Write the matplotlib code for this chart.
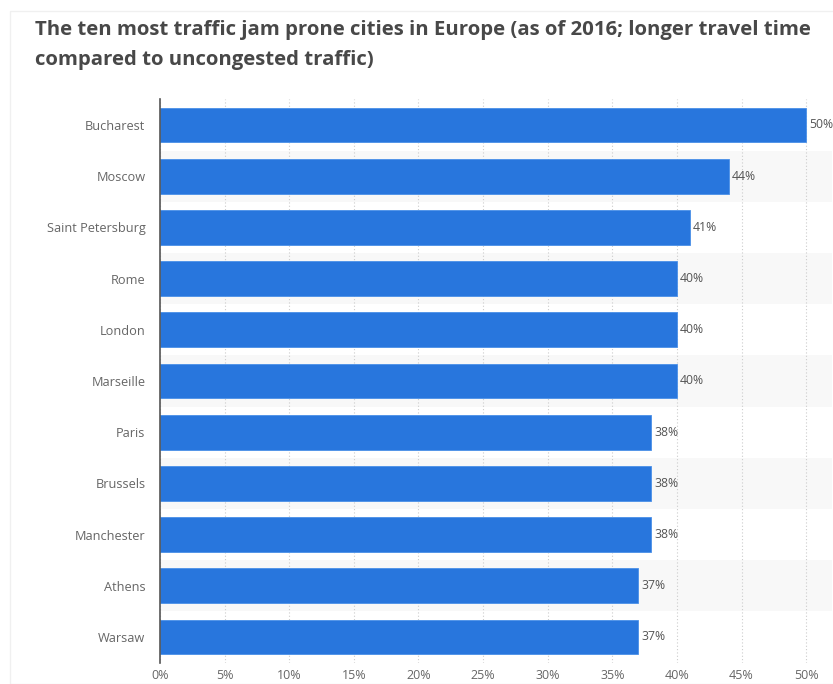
import matplotlib.pyplot as plt
from matplotlib.patches import Rectangle

cities = ["Bucharest", "Moscow", "Saint Petersburg", "Rome", "London",
          "Marseille", "Paris", "Brussels", "Manchester", "Athens", "Warsaw"]
values = [50, 44, 41, 40, 40, 40, 38, 38, 38, 37, 37]
xticks = [0, 5, 10, 15, 20, 25, 30, 35, 40, 45, 50]

BLUE = "#2876dd"
GREY = "#666666"

plt.rcParams["font.family"] = ["Open Sans", "DejaVu Sans"]

W, H = 833, 684
fig = plt.figure(figsize=(W / 100, H / 100), dpi=100)
fig.patch.set_facecolor("white")

# faint card border
fig.add_artist(Rectangle((10 / W, 0), 1, 1 - 11 / H, transform=fig.transFigure,
                         fill=False, edgecolor="#f0f0f0", linewidth=1))

ax = fig.add_axes([160 / W, 1 - 662.6 / H, (832 - 160) / W, (662.6 - 99.4) / H])
ax.set_xlim(0, 52)
ax.set_ylim(len(cities) - 0.5, -0.5)

y = list(range(len(cities)))
for i in y:
    if i % 2 == 1:
        ax.axhspan(i - 0.5, i + 0.5, color="#f8f8f8", zorder=0, lw=0)

for t in xticks:
    ax.axvline(t, color="#cccccc", lw=0.8, ls=(0, (1, 2)), zorder=1)

ax.barh(y, values, height=0.68, color=BLUE, edgecolor="#4a90e8", linewidth=0.6, zorder=2)
for i, v in zip(y, values):
    ax.text(v + 0.25, i, f"{v}%", va="center", ha="left", fontsize=8.8, color="#555555")

ax.set_yticks(y)
ax.set_yticklabels(cities)
ax.set_xticks(xticks)
ax.set_xticklabels([f"{t}%" for t in xticks])
ax.tick_params(axis="y", length=0, pad=10.5, labelsize=9.2, labelcolor=GREY)
ax.tick_params(axis="x", length=0, pad=4.5, labelsize=9, labelcolor=GREY)

for s in ["top", "right", "bottom"]:
    ax.spines[s].set_visible(False)
ax.spines["left"].set_color("#555555")
ax.spines["left"].set_linewidth(1.2)
ax.set_facecolor("none")

fig.text(35 / W, 1 - 30 / H, "The ten most traffic jam prone cities in Europe (as of 2016; longer travel time",
         fontsize=14.7, fontweight="bold", color="#484848", va="center", ha="left")
fig.text(35 / W, 1 - 60 / H, "compared to uncongested traffic)",
         fontsize=14.7, fontweight="bold", color="#484848", va="center", ha="left")

fig.savefig("out.png", dpi=100)
